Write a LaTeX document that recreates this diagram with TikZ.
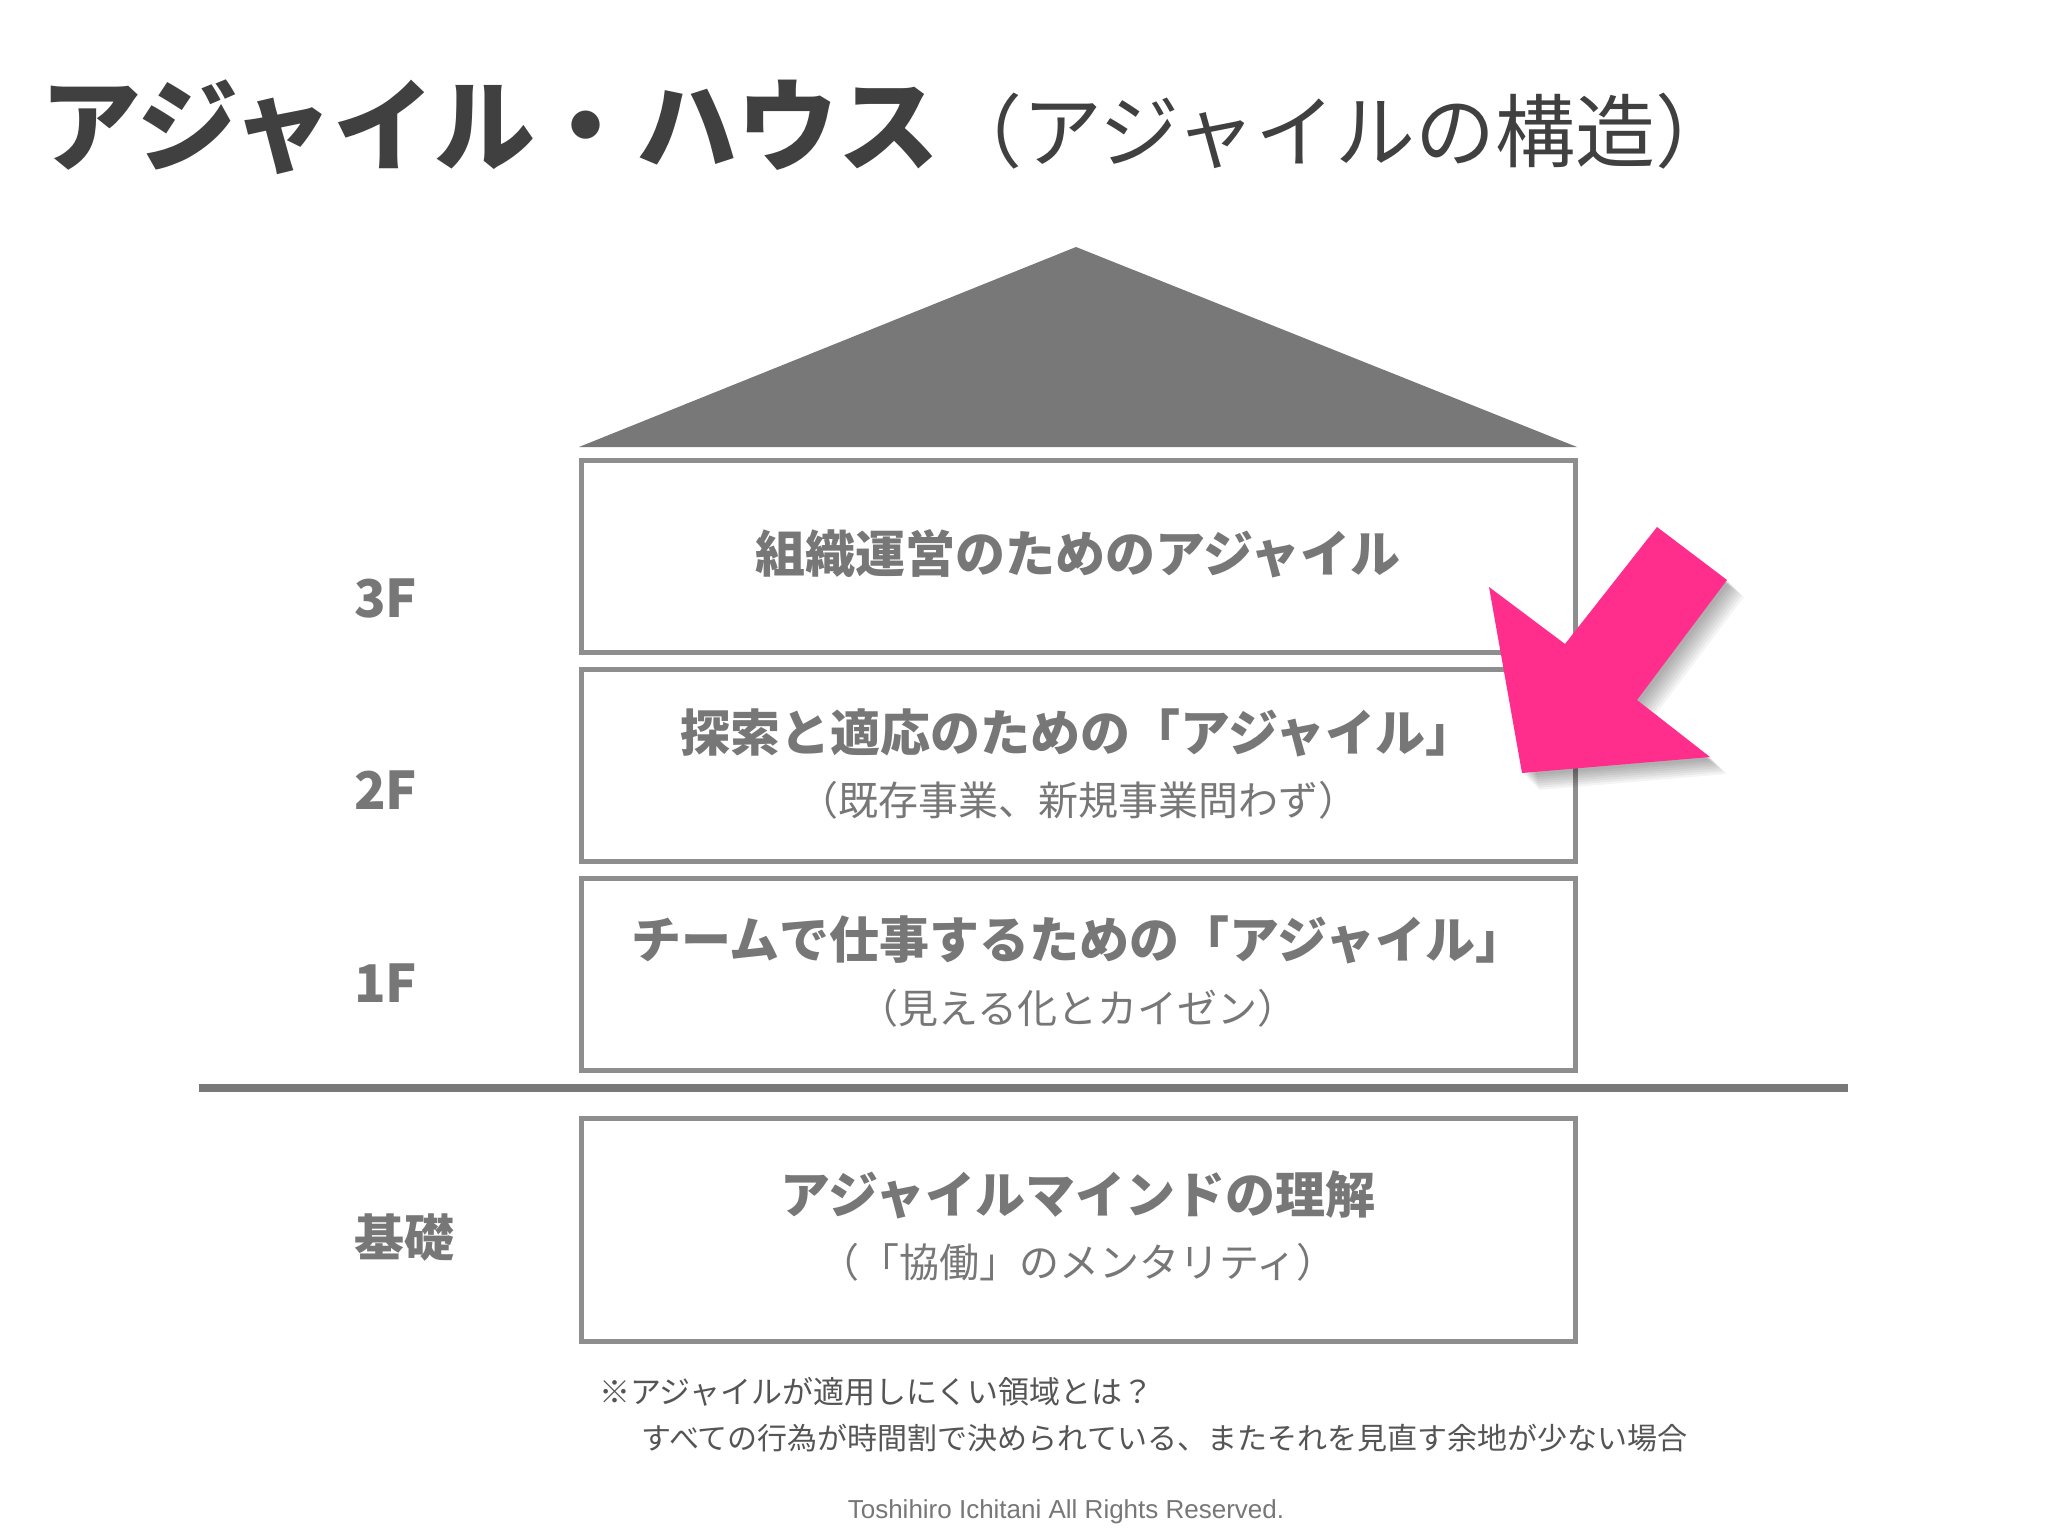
\documentclass[tikz,border=0pt]{standalone}
\usepackage{fontspec}
\setmainfont{Liberation Sans}
\newfontfamily\jp{Noto Sans CJK JP}
\definecolor{titlegray}{HTML}{404040}
\definecolor{textgray}{HTML}{777777}
\definecolor{roofgray}{HTML}{787878}
\definecolor{boxgray}{HTML}{8E8E8E}
\definecolor{notegray}{HTML}{555555}
\definecolor{arrowpink}{RGB}{255,45,140}
\tikzset{
  floorbox/.style={draw=boxgray, line width=5pt, fill=white},
  maintext/.style={text=textgray, font=\jp\bfseries\fontsize{50}{60}\selectfont, inner sep=0pt},
  subtext/.style={text=textgray, font=\jp\fontsize{40}{48}\selectfont, inner sep=0pt},
  floorlabel/.style={text=textgray, font=\jp\bfseries\fontsize{52}{60}\selectfont, inner sep=0pt, anchor=west},
  notetext/.style={text=notegray, font=\jp\fontsize{31}{36}\selectfont, inner sep=0pt, anchor=west},
}
\begin{document}
\begin{tikzpicture}[x=1pt,y=-1pt]
\useasboundingbox[fill=white] (0,0) rectangle (2048,1536);
% title
\node[text=titlegray, font=\jp\bfseries\fontsize{101}{112}\selectfont, inner sep=0pt] (title) at (490,127) {アジャイル・ハウス};
\node[text=titlegray, font=\jp\fontsize{80}{90}\selectfont, inner sep=0pt] (subtitle) at (1339,131) {（アジャイルの構造）};
% roof
\fill[roofgray] (579,447) -- (1076,247) -- (1577,447) -- cycle;
% floors
\draw[floorbox] (581,460) rectangle (1575,652);
\draw[floorbox] (581,669) rectangle (1575,861);
\draw[floorbox] (581,878) rectangle (1575,1070);
\draw[floorbox] (581,1118) rectangle (1575,1341);
% ground line
\draw[roofgray, line width=8pt] (199,1088) -- (1848,1088);
% box texts
\node[maintext] (t3) at (1078,554) {組織運営のためのアジャイル};
\node[maintext] (t2) at (1078,733) {探索と適応のための「アジャイル」};
\node[subtext] (s2) at (1078,800) {（既存事業、新規事業問わず）};
\node[maintext] (t1) at (1078,940) {チームで仕事するための「アジャイル」};
\node[subtext] (s1) at (1078,1008) {（見える化とカイゼン）};
\node[maintext] (t0) at (1078,1195) {アジャイルマインドの理解};
\node[subtext] (s0) at (1078,1262) {（「協働」のメンタリティ）};
% floor labels
\node[floorlabel] (l3) at (354,598) {3F};
\node[floorlabel] (l2) at (354,790) {2F};
\node[floorlabel] (l1) at (354,983) {1F};
\node[floorlabel, font=\jp\bfseries\fontsize{50}{60}\selectfont] (l0) at (354,1238) {基礎};
% pink arrow with soft shadow
\foreach \s in {3,5,...,17}{
  \fill[black, opacity=0.045, shift={(\s,\s)}]
    (1657,527) -- (1727,580) -- (1637,700) -- (1710,757) -- (1522,773) -- (1489,587) -- (1565,644) -- cycle;
}
\fill[arrowpink] (1657,527) -- (1727,580) -- (1637,700) -- (1710,757) -- (1522,773) -- (1489,587) -- (1565,644) -- cycle;
% notes
\node[notetext] (n1) at (599,1392) {※アジャイルが適用しにくい領域とは？};
\node[notetext, font=\jp\fontsize{30}{36}\selectfont] (n2) at (641,1438) {すべての行為が時間割で決められている、またそれを見直す余地が少ない場合};
\node[text=textgray, font=\fontsize{26}{30}\selectfont, inner sep=0pt] (copy) at (1066,1512) {Toshihiro Ichitani All Rights Reserved.};
\end{tikzpicture}
\end{document}
